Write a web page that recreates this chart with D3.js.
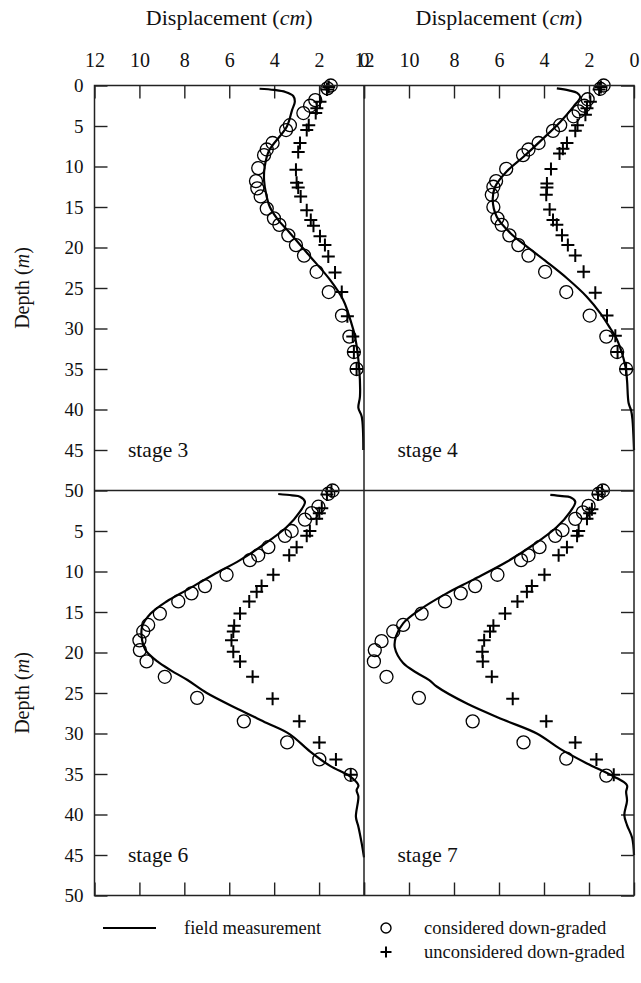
<!DOCTYPE html>
<html>
<head>
<meta charset="utf-8">
<script src="https://cdn.jsdelivr.net/npm/d3@7/dist/d3.min.js"></script>
<style>
  html, body { margin: 0; padding: 0; background: #fff; }
  svg { display: block; }
  text { font-family: "Liberation Serif", "Times New Roman", serif; fill: #111; }
</style>
</head>
<body>
<svg id="chart" width="641" height="983"></svg>
<script>
// Displacement profiles, pairs of [depth (m), displacement (cm)]
const xTicks = [12, 10, 8, 6, 4, 2, 0];
const depthTicksTop = [0, 5, 10, 15, 20, 25, 30, 35, 40, 45, 50];
const depthTicksBottom = [5, 10, 15, 20, 25, 30, 35, 40, 45, 50];
const stageNames = ["stage 3", "stage 4", "stage 6", "stage 7"];
const legendLabels = ["field measurement", "considered down-graded", "unconsidered down-graded"];

const stage3Field = [[0.4,4.65],[0.55,4.0],[0.8,3.5],[1.3,3.15],[2.0,3.08],[3.0,3.2],[5.1,3.44],[8.0,4.22],[10.0,4.42],[11.7,4.45],[13.5,4.35],[15.0,4.19],[16.5,3.85],[18.2,3.3],[21.1,2.4],[24.0,1.51],[26.5,0.92],[29.0,0.6],[31.0,0.4],[35.1,0.21],[38.4,0.18],[39.8,0.25],[40.9,0.1],[45.0,0.03]];
const stage3Considered = [[0,1.48],[0.35,1.63],[1.8,2.17],[2.5,2.4],[3.4,2.7],[4.9,3.3],[5.5,3.47],[7.1,4.07],[7.9,4.33],[8.6,4.45],[10.2,4.71],[11.8,4.81],[12.7,4.75],[13.7,4.6],[15.2,4.33],[16.4,4.01],[17.2,3.77],[18.5,3.37],[19.7,3.03],[21.0,2.67],[23.0,2.11],[25.5,1.57],[28.4,0.98],[31.0,0.65],[32.9,0.45],[35.0,0.33]];
const stage3Unconsidered = [[0.2,1.57],[0.5,1.65],[2.0,1.96],[2.8,2.1],[3.4,2.15],[4.9,2.46],[5.5,2.55],[7.1,2.85],[8.2,2.93],[10.4,3.03],[12.0,3.0],[12.6,2.93],[13.7,2.82],[15.4,2.55],[16.6,2.37],[17.3,2.25],[18.6,1.96],[19.7,1.74],[21.1,1.59],[23.1,1.29],[25.5,0.99],[28.5,0.74],[31.0,0.5],[32.9,0.45],[35.0,0.33]];

const stage4Field = [[0.35,3.43],[0.6,2.9],[0.9,2.53],[1.4,2.39],[2.6,2.69],[4.5,3.28],[6.5,4.02],[8.8,4.91],[10.6,5.65],[12.5,6.17],[14.1,6.28],[16.2,6.1],[18.2,5.5],[19.9,4.76],[21.8,3.87],[23.8,2.98],[26.1,2.09],[28.1,1.5],[30.0,1.05],[31.4,0.75],[34.7,0.38],[36.4,0.31],[39.2,0.24],[40.1,0.13],[41.2,0.07],[45.0,0.0]];
const stage4Considered = [[0,1.35],[0.4,1.5],[1.7,2.06],[2.5,2.21],[3.2,2.46],[3.8,2.69],[4.9,3.28],[5.6,3.6],[7.1,4.24],[7.9,4.69],[8.6,4.93],[10.3,5.68],[11.8,6.13],[12.5,6.25],[13.5,6.32],[15.0,6.25],[16.4,6.07],[17.2,5.88],[18.5,5.54],[19.7,5.14],[21.0,4.69],[23.0,3.95],[25.5,3.01],[28.4,1.97],[31.0,1.23],[32.9,0.75],[35.0,0.35]];
const stage4Unconsidered = [[0.2,1.47],[0.5,1.55],[2.0,1.94],[2.8,2.09],[3.6,2.16],[4.9,2.51],[5.6,2.61],[7.1,2.98],[7.8,3.16],[8.4,3.31],[10.3,3.69],[12.1,3.87],[12.6,3.87],[13.5,3.9],[15.3,3.75],[16.6,3.6],[17.2,3.43],[18.5,3.2],[19.7,2.94],[21.0,2.61],[23.0,2.24],[25.6,1.72],[28.4,1.2],[30.9,0.83],[32.9,0.73],[35.0,0.35]];

const stage6Field = [[0.43,3.82],[0.6,3.2],[0.76,2.85],[1.39,2.63],[2.6,2.85],[4.5,3.44],[6.7,4.48],[8.6,5.52],[10.4,6.71],[12.3,7.9],[13.7,8.79],[15.2,9.5],[16.8,9.88],[18.5,9.88],[19.7,9.73],[21.1,9.2],[22.2,8.6],[23.4,7.86],[25.0,7.0],[27.1,5.52],[28.7,4.33],[30.1,3.3],[32.2,2.41],[34.0,1.51],[35.3,0.62],[36.4,0.25],[37.0,0.33],[37.8,0.25],[40.3,0.36],[41.5,0.25],[43.6,0.1],[45.3,0.0]];
const stage6Considered = [[0,1.4],[0.4,1.59],[2.0,2.03],[2.8,2.33],[3.6,2.63],[5.0,3.22],[5.6,3.52],[7.0,4.26],[8.0,4.71],[8.6,5.08],[10.4,6.12],[11.8,7.08],[12.7,7.68],[13.7,8.27],[15.2,9.09],[16.6,9.61],[17.4,9.83],[18.5,10.0],[19.7,9.98],[21.1,9.68],[23.0,8.87],[25.6,7.43],[28.5,5.35],[31.1,3.42],[33.2,1.99],[35.1,0.59]];
const stage6Unconsidered = [[0.1,1.45],[0.5,1.65],[2.2,1.88],[2.8,1.99],[3.5,2.11],[5.0,2.41],[5.6,2.55],[7.0,3.0],[8.0,3.33],[10.4,4.04],[11.8,4.56],[12.5,4.78],[13.7,5.11],[15.2,5.52],[16.7,5.78],[17.4,5.82],[18.5,5.9],[19.9,5.82],[21.1,5.52],[23.0,4.96],[25.7,4.07],[28.5,2.88],[31.1,1.99],[33.2,1.25],[35.1,0.59]];

const stage7Field = [[0.55,3.72],[0.7,3.2],[0.84,2.83],[1.39,2.61],[2.6,2.83],[4.5,3.43],[6.7,4.47],[8.8,5.65],[11.0,7.14],[12.7,8.33],[14.7,9.51],[16.4,10.26],[18.0,10.58],[19.4,10.63],[21.3,10.26],[22.5,9.66],[23.4,9.1],[24.2,8.77],[26.3,7.43],[28.3,5.8],[30.0,4.32],[31.9,3.28],[33.7,2.09],[35.3,0.9],[36.4,0.31],[37.2,0.35],[38.3,0.31],[40.1,0.43],[41.3,0.31],[42.9,0.08],[45.0,0.0]];
const stage7Considered = [[0,1.38],[0.4,1.57],[1.9,2.02],[2.7,2.27],[3.5,2.61],[4.9,3.18],[5.6,3.5],[7.0,4.2],[8.0,4.69],[8.6,5.02],[10.4,6.07],[11.8,7.06],[12.7,7.7],[13.7,8.4],[15.2,9.44],[16.6,10.26],[17.4,10.7],[18.6,11.22],[19.7,11.52],[21.1,11.56],[23.0,11.0],[25.6,9.56],[28.5,7.17],[31.1,4.91],[33.1,3.01],[35.2,1.23]];
const stage7Unconsidered = [[0.1,1.42],[0.5,1.6],[2.3,1.87],[2.8,1.97],[3.5,2.09],[5.0,2.46],[5.6,2.53],[7.0,2.98],[8.0,3.35],[10.4,3.98],[11.8,4.54],[12.5,4.76],[13.7,5.18],[15.2,5.73],[16.7,6.25],[17.4,6.4],[18.5,6.66],[19.9,6.74],[21.1,6.72],[23.0,6.32],[25.7,5.39],[28.5,3.9],[31.1,2.61],[33.2,1.67],[35.1,0.9]];

const svg = d3.select("#chart");

// grid of four panels sharing edges
const colX = [94.5, 364, 634];
const rowY = [85.5, 490.5, 895.5];
const TICK = 13;

const panels = [
  { name: stageNames[0], field: stage3Field, cons: stage3Considered, uncons: stage3Unconsidered, col: 0, row: 0 },
  { name: stageNames[1], field: stage4Field, cons: stage4Considered, uncons: stage4Unconsidered, col: 1, row: 0 },
  { name: stageNames[2], field: stage6Field, cons: stage6Considered, uncons: stage6Unconsidered, col: 0, row: 1 },
  { name: stageNames[3], field: stage7Field, cons: stage7Considered, uncons: stage7Unconsidered, col: 1, row: 1 }
];

const plusPath = r => `M${-r},0H${r}M0,${-r}V${r}`;

panels.forEach(p => {
  const x0 = colX[p.col], x1 = colX[p.col + 1];
  const y0 = rowY[p.row], y1 = rowY[p.row + 1];
  const x = d3.scaleLinear().domain([12, 0]).range([x0, x1]);
  const y = d3.scaleLinear().domain([0, 50]).range([y0, y1]);
  const g = svg.append("g");

  // ticks pointing into the panel
  if (p.row === 0) {
    const ax = g.append("g").attr("transform", `translate(0,${y0})`)
      .call(d3.axisTop(x).tickValues(xTicks).tickSize(-TICK).tickPadding(19).tickFormat(d3.format("d")));
    ax.select(".domain").remove();
    ax.selectAll("text").style("font-size", "20px").attr("fill", "#111");
  } else {
    const ax = g.append("g").attr("transform", `translate(0,${y1})`)
      .call(d3.axisBottom(x).tickValues(xTicks).tickSize(-TICK).tickFormat(""));
    ax.select(".domain").remove();
  }
  if (p.col === 0) {
    const ay = g.append("g").attr("transform", `translate(${x0},0)`)
      .call(d3.axisLeft(y).tickValues(p.row === 0 ? depthTicksTop : depthTicksBottom)
        .tickSize(-TICK).tickPadding(11).tickFormat(d3.format("d")));
    ay.select(".domain").remove();
    ay.selectAll("text").style("font-size", "19px").attr("fill", "#111");
  } else {
    const ay = g.append("g").attr("transform", `translate(${x1},0)`)
      .call(d3.axisRight(y).tickValues(p.row === 0 ? depthTicksTop : depthTicksBottom)
        .tickSize(-TICK).tickFormat(""));
    ay.select(".domain").remove();
  }
  g.selectAll(".tick line").attr("stroke", "#222").attr("stroke-width", 1.4);

  // field measurement
  g.append("path")
    .datum(p.field)
    .attr("fill", "none")
    .attr("stroke", "#000")
    .attr("stroke-width", 2.2)
    .attr("stroke-linejoin", "round")
    .attr("d", d3.line().x(d => x(d[1])).y(d => y(d[0])).curve(d3.curveCatmullRom.alpha(0.5)));

  // model with down-graded parameters
  g.append("g").selectAll("circle")
    .data(p.cons).join("circle")
    .attr("cx", d => x(d[1])).attr("cy", d => y(d[0]))
    .attr("r", 6.5)
    .attr("fill", "none").attr("stroke", "#000").attr("stroke-width", 1.3);

  // model without down-grading
  g.append("g").selectAll("path")
    .data(p.uncons).join("path")
    .attr("transform", d => `translate(${x(d[1])},${y(d[0])})`)
    .attr("d", plusPath(6.5))
    .attr("fill", "none").attr("stroke", "#000").attr("stroke-width", 2);

  g.append("text")
    .attr("x", x0 + 33.5).attr("y", y0 + 371.5)
    .style("font-size", "21.5px")
    .text(p.name);
});

// panel frame
const frame = svg.append("g").attr("fill", "none").attr("stroke", "#222").attr("stroke-width", 1.5);
frame.append("rect").attr("x", colX[0]).attr("y", rowY[0]).attr("width", colX[2] - colX[0]).attr("height", rowY[2] - rowY[0]);
frame.append("line").attr("x1", colX[1]).attr("x2", colX[1]).attr("y1", rowY[0]).attr("y2", rowY[2]);
frame.append("line").attr("x1", colX[0]).attr("x2", colX[2]).attr("y1", rowY[1]).attr("y2", rowY[1]);

// axis titles
[0, 1].forEach(c => {
  const t = svg.append("text")
    .attr("x", (colX[c] + colX[c + 1]) / 2).attr("y", 25)
    .attr("text-anchor", "middle").style("font-size", "22px");
  t.append("tspan").text("Displacement (");
  t.append("tspan").style("font-style", "italic").text("cm");
  t.append("tspan").text(")");
});
[0, 1].forEach(r => {
  const cy = (rowY[r] + rowY[r + 1]) / 2;
  const t = svg.append("text")
    .attr("transform", `translate(29,${cy}) rotate(-90)`)
    .attr("text-anchor", "middle").style("font-size", "20px");
  t.append("tspan").text("Depth (");
  t.append("tspan").style("font-style", "italic").text("m");
  t.append("tspan").text(")");
});

// legend
const lg = svg.append("g").style("font-size", "18.5px");
lg.append("line").attr("x1", 103).attr("x2", 156).attr("y1", 928).attr("y2", 928)
  .attr("stroke", "#000").attr("stroke-width", 2.2);
lg.append("text").attr("x", 184).attr("y", 934).text(legendLabels[0]);
lg.append("circle").attr("cx", 386).attr("cy", 928).attr("r", 5)
  .attr("fill", "none").attr("stroke", "#000").attr("stroke-width", 1.4);
lg.append("text").attr("x", 424).attr("y", 934).text(legendLabels[1]);
lg.append("path").attr("transform", "translate(386,952)").attr("d", plusPath(5.5))
  .attr("stroke", "#000").attr("stroke-width", 2);
lg.append("text").attr("x", 424).attr("y", 958).text(legendLabels[2]);
</script>
</body>
</html>
